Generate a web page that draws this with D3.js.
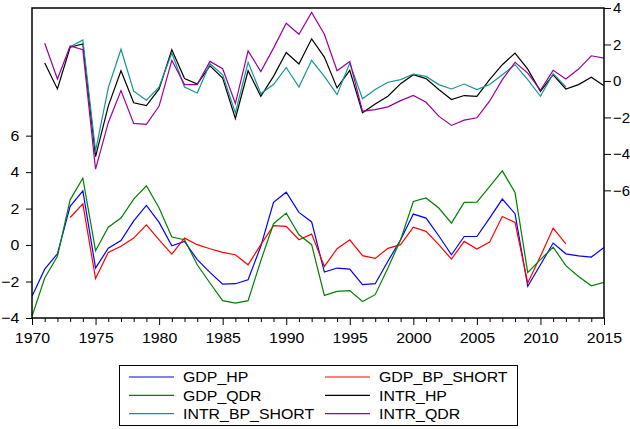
<!DOCTYPE html>
<html>
<head>
<meta charset="utf-8">
<script src="https://cdn.jsdelivr.net/npm/d3@7"></script>
<style>
  body { margin: 0; background: #fff; }
  text { font-family: "Liberation Sans", Arial, sans-serif; }
</style>
</head>
<body>
<div id="container"></div>
<script>
/* DATA */
const years = d3.range(1970, 2016);

// left axis series (1970-2015)
const gdpHP = [-2.81, -1.32, -0.48, 2.12, 2.97, -1.26, -0.17, 0.25, 1.33, 2.17,
  1.24, -0.04, 0.2, -0.8, -1.5, -2.14, -2.12, -1.9, -0.07, 2.34,
  2.9, 1.79, 1.27, -1.48, -1.26, -1.32, -2.17, -2.12, -0.89, 0.29,
  1.7, 1.48, 0.51, -0.53, 0.47, 0.47, 1.48, 2.52, 1.72, -2.26,
  -1.08, 0.11, -0.48, -0.59, -0.66, -0.13];
const gdpQDR = [-3.91, -1.81, -0.62, 2.48, 3.67, -0.31, 0.98, 1.48, 2.52, 3.25,
  2.03, 0.44, 0.29, -1.08, -2.08, -3.05, -3.18, -3.05, -0.86, 1.17,
  1.75, 0.56, 0.02, -2.76, -2.54, -2.5, -3.09, -2.72, -1.26, 0.29,
  2.39, 2.58, 2.03, 1.2, 2.34, 2.35, 3.21, 4.07, 2.88, -1.5,
  -0.8, -0.11, -1.13, -1.72, -2.23, -2.05];
// 1973-2012
const gdpBP = [1.51, 2.26, -1.84, -0.4, -0.07, 0.38, 1.11, 0.29, -0.5, 0.38,
  0.02, -0.2, -0.4, -0.53, -1.08, 0.02, 1.06, 1.02, 0.29, 0.6,
  -1.17, -0.2, 0.29, -0.58, -0.73, -0.18, 0.02, 0.98, 0.75, 0.02,
  -0.77, 0.2, -0.22, 0.16, 1.57, 1.24, -2.08, -0.62, 0.93, 0.07];

// right axis series (1971-2015)
const intrHP = [0.98, -0.44, 1.85, 2.03, -4.15, -1.38, 0.56, -1.2, -1.35,
  -0.44, 1.71, 0.13, -0.17, 0.83, 0.16, -2.06, 0.56, -0.84, 0.25,
  1.56, 0.93, 2.31, 1.31, -0.38, 0.58, -1.75, -1.27, -0.84, -0.15,
  0.34, 0.13, -0.47, -1.02, -0.8, -0.84, 0.07, 0.89, 1.53, 0.65,
  -0.57, 0.34, -0.44, -0.2, 0.2, -0.26];
const intrQDR = [2.07, 0.11, 1.92, 1.71, -4.84, -2.29, -0.53, -2.33, -2.38,
  -1.38, 1.13, -0.2, -0.2, 1.07, 0.67, -1.24, 1.65, 0.52, 1.8,
  3.16, 2.56, 3.76, 2.56, 0.56, 1.07, -1.66, -1.57, -1.42, -1.08,
  -0.8, -1.17, -1.93, -2.44, -2.15, -2.02, -1.11, 0.07, 1.02, 0.43,
  -0.51, 0.58, 0.11, 0.65, 1.38, 1.25];
// 1973-2012
const intrBP = [1.88, 2.25, -3.84, -0.38, 1.74, -0.56, -1.06,
  -0.33, 1.53, -0.33, -0.66, 0.94, 0.34, -1.75, 1.02, -0.69, -0.2,
  0.74, -0.33, 1.13, 0.25, -0.75, 0.98, -0.98, -0.47, -0.07, 0.07,
  0.38, 0.25, -0.2, -0.44, -0.17, -0.47, -0.2, 0.34, 0.89, 0.07,
  -0.84, 0.4, -0.33];

const leftTicks = [-4, -2, 0, 2, 4, 6];
const rightTicks = [-6, -4, -2, 0, 2, 4];
const yearTicks = [1970, 1975, 1980, 1985, 1990, 1995, 2000, 2005, 2010, 2015];

const series = [
  { name: "GDP_HP", start: 1970, values: gdpHP, axis: "left", color: "#0000ff" },
  { name: "GDP_BP_SHORT", start: 1973, values: gdpBP, axis: "left", color: "#ff0000" },
  { name: "GDP_QDR", start: 1970, values: gdpQDR, axis: "left", color: "#008000" },
  { name: "INTR_HP", start: 1971, values: intrHP, axis: "right", color: "#000000" },
  { name: "INTR_BP_SHORT", start: 1973, values: intrBP, axis: "right", color: "#129494" },
  { name: "INTR_QDR", start: 1971, values: intrQDR, axis: "right", color: "#990099" }
];

/* LAYOUT */
const width = 630, height = 429;
const plot = { left: 32, right: 604, top: 8, bottom: 318 };
const stretch = "scale(1.06,1)"; // the source picture is slightly widened

const svg = d3.select("#container").append("svg")
  .attr("width", width)
  .attr("height", height);

const xScale = d3.scaleLinear().domain([1970, 2015]).range([plot.left, plot.right]);
const yLeft = d3.scaleLinear().domain([-4, 13]).range([plot.bottom, plot.top]);
const yRight = d3.scaleLinear().domain([-13, 4]).range([plot.bottom, plot.top]);

// axes
const xAxis = d3.axisBottom(xScale).tickValues(years).tickSize(4).tickFormat("");
const xg = svg.append("g").attr("transform", `translate(0,${plot.bottom})`).call(xAxis);
xg.selectAll(".tick line").filter(d => d % 5 === 0).attr("y2", 7);
xg.select(".domain").remove();
xg.selectAll("line").attr("stroke", "#000");

const xLab = svg.append("g").attr("transform", `translate(0,${plot.bottom})`)
  .call(d3.axisBottom(xScale).tickValues(yearTicks).tickSize(0).tickPadding(14).tickFormat(d3.format("d")));
xLab.select(".domain").remove();

const lg = svg.append("g").attr("transform", `translate(${plot.left},0)`)
  .call(d3.axisLeft(yLeft).tickValues(leftTicks).tickSize(6).tickPadding(6));
const rg = svg.append("g").attr("transform", `translate(${plot.right},0)`)
  .call(d3.axisRight(yRight).tickValues(rightTicks).tickSize(7).tickPadding(2));
[lg, rg].forEach(g => {
  g.select(".domain").remove();
  g.selectAll("line").attr("stroke", "#000");
});
[xLab, lg, rg].forEach(g => {
  g.selectAll("text").attr("font-size", 15).attr("fill", "#000")
    .style("font-family", "'Liberation Sans', Arial, sans-serif");
});
[xLab, lg].forEach(g => g.selectAll("text").attr("transform", stretch));

// lines
svg.append("clipPath").attr("id", "clip").append("rect")
  .attr("x", plot.left).attr("y", plot.top)
  .attr("width", plot.right - plot.left).attr("height", plot.bottom - plot.top);

series.forEach(s => {
  const y = s.axis === "left" ? yLeft : yRight;
  const line = d3.line()
    .x((d, i) => xScale(s.start + i))
    .y(d => y(d));
  svg.append("path")
    .datum(s.values)
    .attr("clip-path", "url(#clip)")
    .attr("fill", "none")
    .attr("stroke", s.color)
    .attr("stroke-width", 1.2)
    .attr("d", line);
});

// frame
svg.append("rect")
  .attr("x", plot.left).attr("y", plot.top)
  .attr("width", plot.right - plot.left).attr("height", plot.bottom - plot.top)
  .attr("fill", "none").attr("stroke", "#000").attr("stroke-width", 1.5);

/* LEGEND */
const legend = svg.append("g");
legend.append("rect")
  .attr("x", 119.5).attr("y", 365.5).attr("width", 398).attr("height", 60)
  .attr("fill", "none").attr("stroke", "#000").attr("stroke-width", 1);

const legOrder = ["GDP_HP", "GDP_BP_SHORT", "GDP_QDR", "INTR_HP", "INTR_BP_SHORT", "INTR_QDR"];
legOrder.forEach((name, k) => {
  const s = series.find(d => d.name === name);
  const col = k % 2, row = Math.floor(k / 2);
  const lx = col === 0 ? 129 : 325;
  const ly = 377 + row * 18.3;
  legend.append("line")
    .attr("x1", lx).attr("x2", lx + 45).attr("y1", ly).attr("y2", ly)
    .attr("stroke", s.color).attr("stroke-width", 1.2);
  legend.append("g")
    .attr("transform", `translate(${lx + 54},${ly + 5.3})`)
    .append("text")
    .attr("transform", stretch)
    .attr("font-size", 15)
    .text(name);
});
</script>
</body>
</html>
